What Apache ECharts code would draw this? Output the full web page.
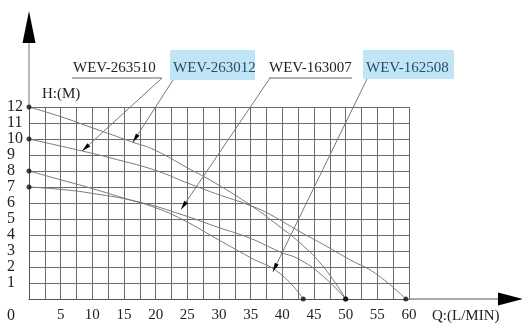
<!DOCTYPE html>
<html><head><meta charset="utf-8">
<script src="https://cdn.jsdelivr.net/npm/echarts@6/dist/echarts.min.js"></script>
<style>html,body{margin:0;padding:0;background:#fff}#c{width:522px;height:327px}</style>
</head><body><div id="c"></div>
<script>
// ---- data (Q in L/min, H in m) ----
const seriesNames = ['WEV-263012', 'WEV-263510', 'WEV-162508', 'WEV-163007'];
const curve263012 = [[0,12],[5,11.4],[10,10.7],[16.4,9.8],[19.9,9.3],[25,8.2],[29.4,7.25],[35.2,5.8],[39,4.7],[42.8,3.5],[46.5,2.0],[50,0]];
const curve263510 = [[0,10],[8.4,9.25],[14,8.7],[19.9,8.05],[25,7.25],[29.4,6.6],[35.2,5.8],[38,5.3],[42.8,4.2],[46.5,3.4],[50.7,2.45],[54.7,1.6],[59.5,0]];
const curve162508 = [[0,8],[5,7.45],[10,6.9],[15,6.3],[20,5.7],[24.3,4.95],[29.7,3.75],[34.9,2.6],[39.6,1.6],[43.3,0]];
const curve163007 = [[0,7],[5,6.85],[10,6.6],[17.5,6.05],[24.3,5.25],[29.7,4.5],[34.9,3.8],[39.6,2.95],[42.8,2.45],[46.5,1.4],[50,0]];
const xTicks = [5,10,15,20,25,30,35,40,45,50,55,60];
const yTicks = [1,2,3,4,5,6,7,8,9,10,11,12];
const xName = 'Q:(L/MIN)';
const yName = 'H:(M)';
const originLabel = '0';
// annotation labels and the curve points their arrows point to
const labelNames = ['WEV-263510', 'WEV-263012', 'WEV-163007', 'WEV-162508'];
const labelHighlighted = [false, true, false, true];
const arrowTargets = [[8.4,9.25],[16.4,9.8],[24,5.6],[38.5,1.7]];

// ---- layout ----
const FONT = 'Liberation Serif';
const labelTextX = [73, 173, 269, 366];
const labelBoxes = [null, [170,50,85,30], null, [363,50,91,29]];
const underlines = [[72,162], null, [269,352], null];
const leaderStarts = [[162,78],[173,80],[270,78],[367,79]];

const chart = echarts.init(document.getElementById('c'), null, {renderer:'canvas'});
const curves = [curve263012, curve263510, curve162508, curve163007];
const endpoints = [];
curves.forEach(c => { endpoints.push(c[0]); endpoints.push(c[c.length - 1]); });

const axisLineStyle = {color:'#555', width:1};
const splitStyle = {color:'#6a6a6a', width:1};

chart.setOption({
  animation: false,
  grid: {left:29, top:107, width:380, height:192},
  xAxis: {
    type:'value', min:0, max:60, interval:2.5,
    axisLine:{show:true, lineStyle:axisLineStyle},
    axisTick:{show:false},
    splitLine:{show:true, lineStyle:splitStyle},
    axisLabel:{margin:9, color:'#222', fontFamily:FONT, fontSize:15,
      formatter: v => xTicks.includes(v) ? String(v) : ''}
  },
  yAxis: {
    type:'value', min:0, max:12, interval:1,
    axisLine:{show:true, lineStyle:axisLineStyle},
    axisTick:{show:false},
    splitLine:{show:true, lineStyle:splitStyle},
    axisLabel:{align:'left', margin:22, color:'#222', fontFamily:FONT, fontSize:16,
      formatter: v => yTicks.includes(v) ? String(v) : ''}
  },
  series: curves.map((c, i) => ({
    type:'line', name:seriesNames[i], data:c, smooth:0.5,
    symbol:'none', lineStyle:{color:'#7a7a7a', width:1}, z:3
  })).concat([{
    type:'scatter', data:endpoints, symbol:'circle', symbolSize:5,
    itemStyle:{color:'#111'}, z:5
  }])
});

// ---- decorations: axis arrows, texts, leader lines ----
const g = [];
const txt = (text, x, y, size, fill, align) => ({
  type:'text', z:10,
  style:{text, x, y, fill, fontFamily:FONT, fontSize:size,
    align: align || 'left', verticalAlign:'middle',
    textAlign: align || 'left', textVerticalAlign:'middle'}
});
// y axis extension and arrow
g.push({type:'line', shape:{x1:29, y1:107, x2:29, y2:42}, style:{stroke:'#777', lineWidth:1}});
g.push({type:'polygon', shape:{points:[[29,11],[22.5,43],[35.5,43]]}, style:{fill:'#000'}});
// x axis extension and arrow
g.push({type:'line', shape:{x1:409, y1:299, x2:499, y2:299}, style:{stroke:'#555', lineWidth:1}});
g.push({type:'polygon', shape:{points:[[498,292.5],[498,305.5],[523,299]]}, style:{fill:'#000'}});
// axis names
g.push(txt(yName, 42, 94, 15, '#222'));
g.push(txt(xName, 432, 316, 15, '#222'));
g.push(txt(originLabel, 7, 316, 16, '#222'));
// labels
labelNames.forEach((name, i) => {
  if (labelBoxes[i]) {
    const b = labelBoxes[i];
    g.push({type:'rect', shape:{x:b[0], y:b[1], width:b[2], height:b[3]}, style:{fill:'#bfe5f7'}, z:8});
  }
  g.push(txt(name, labelTextX[i], 68, 15, labelHighlighted[i] ? '#2f4b66' : '#222'));
  if (underlines[i]) {
    g.push({type:'line', shape:{x1:underlines[i][0], y1:78, x2:underlines[i][1], y2:78}, style:{stroke:'#666', lineWidth:1}});
  }
  const tip = chart.convertToPixel({gridIndex:0}, arrowTargets[i]);
  const s = leaderStarts[i];
  g.push({type:'line', shape:{x1:s[0], y1:s[1], x2:tip[0], y2:tip[1]}, style:{stroke:'#777', lineWidth:1}, z:9});
  const dx = tip[0] - s[0], dy = tip[1] - s[1];
  const len = Math.sqrt(dx*dx + dy*dy);
  const ux = dx/len, uy = dy/len;
  const bx = tip[0] - ux*9, by = tip[1] - uy*9;
  g.push({type:'polygon', z:9, shape:{points:[[tip[0],tip[1]],[bx - uy*2.2, by + ux*2.2],[bx + uy*2.2, by - ux*2.2]]}, style:{fill:'#000'}});
});
chart.setOption({graphic: g});
</script>
</body></html>
